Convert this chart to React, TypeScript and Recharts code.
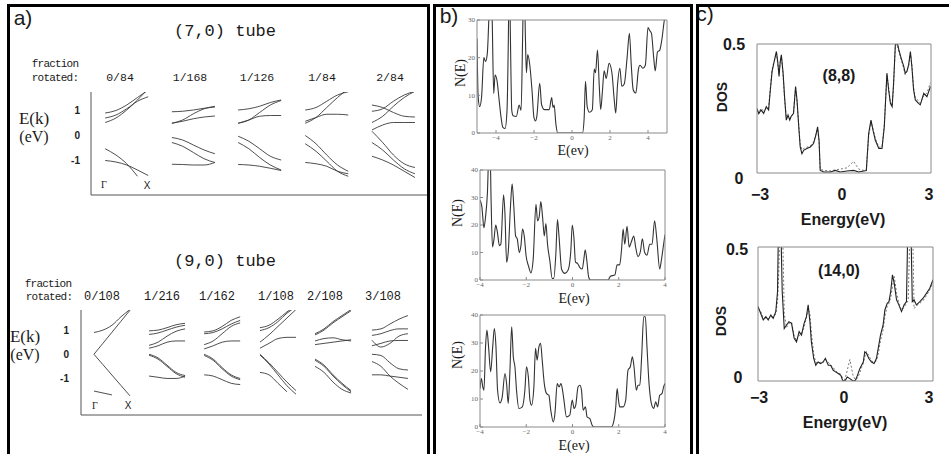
import React from 'react'
import { LineChart, Line, XAxis, YAxis } from 'recharts'

const SERIF = '"Liberation Serif", "DejaVu Serif", serif'
const MONO = '"Liberation Mono", "DejaVu Sans Mono", monospace'
const SANS = '"Liberation Sans", Arial, sans-serif'

type Band = (number | null)[]

// k samples along each band panel, Γ = 0 .. X = 1
const kPath = [0, 0.25, 0.5, 0.75, 1]

// ---- (7,0) tube, band energies in eV ----
const labels70 = ['0/84', '1/168', '1/126', '1/84', '2/84']
const bands70_0: Band[] = [
  [0.88, 0.98, 1.2, 1.5, 1.8],
  [0.68, 0.8, 1.05, 1.35, 1.53],
  [0.5, 0.68, 1.0, 1.4, 1.85],
  [-0.55, -0.8, -1.15, -1.65, null],
  [-1.02, -1.08, -1.2, -1.4, -1.62],
]
const bands70_1: Band[] = [
  [0.93, 0.95, 1.0, 1.07, 1.12],
  [0.47, 0.6, 0.85, 1.05, 1.15],
  [0.47, 0.55, 0.65, 0.72, 0.76],
  [-0.1, -0.2, -0.4, -0.6, -0.75],
  [-0.3, -0.45, -0.7, -0.95, -1.1],
  [-1.17, -1.18, -1.2, -1.2, -1.1],
]
const bands70_2: Band[] = [
  [1.0, 1.05, 1.15, 1.3, 1.4],
  [0.47, 0.6, 0.9, 1.2, 1.38],
  [0.47, 0.6, 0.75, 0.78, 0.78],
  [-0.05, -0.25, -0.55, -0.85, -1.0],
  [-0.3, -0.55, -0.9, -1.2, -1.4],
  [-1.18, -1.2, -1.25, -1.33, -1.42],
]
const bands70_3: Band[] = [
  [1.0, 1.1, 1.35, 1.6, 1.73],
  [0.47, 0.7, 1.1, 1.5, 1.85],
  [0.55, 0.7, 0.83, 0.83, 0.8],
  [-0.02, -0.35, -0.8, -1.2, -1.45],
  [-0.35, -0.65, -1.05, -1.45, -1.65],
  [-1.1, -1.15, -1.25, -1.45, -1.55],
]
const bands70_4: Band[] = [
  [1.2, 1.1, 0.9, 0.75, 0.72],
  [0.95, 1.05, 1.35, 1.6, 1.75],
  [0.5, 0.75, 1.15, 1.5, 1.75],
  [0.2, 0.4, 0.5, 0.5, 0.5],
  [0.15, -0.3, -0.8, -1.15, -1.3],
  [-0.3, -0.6, -1.0, -1.35, -1.55],
  [-0.85, -1.0, -1.2, -1.45, -1.7],
]

// ---- (9,0) tube ----
const labels90 = ['0/108', '1/216', '1/162', '1/108', '2/108', '3/108']
const bands90_0: Band[] = [
  [0.9, 1.0, 1.2, 1.55, 1.85],
  [0, 0.455, 0.91, 1.365, 1.82],
  [0, -0.43, -0.86, -1.29, -1.72],
  [-1.52, -1.6, -1.68, null, null],
]
const bands90_1: Band[] = [
  [0.97, 1.0, 1.1, 1.22, 1.28],
  [0.82, 0.88, 1.0, 1.12, 1.2],
  [0.37, 0.5, 0.75, 0.95, 1.05],
  [0.25, 0.35, 0.5, 0.55, 0.55],
  [0, -0.15, -0.45, -0.75, -0.88],
  [-0.04, -0.2, -0.5, -0.8, -0.95],
  [-0.9, -0.95, -1.0, -1.0, -0.9],
]
const bands90_2: Band[] = [
  [0.92, 0.97, 1.15, 1.4, 1.55],
  [0.85, 0.9, 1.05, 1.25, 1.4],
  [0.4, 0.55, 0.85, 1.15, 1.3],
  [0.22, 0.35, 0.5, 0.55, 0.55],
  [0, -0.2, -0.55, -0.85, -1.0],
  [-0.05, -0.25, -0.6, -0.9, -1.05],
  [-0.85, -0.9, -1.05, -1.2, -1.25],
]
const bands90_3: Band[] = [
  [1.1, 1.2, 1.45, 1.75, 2.0],
  [0.98, 1.1, 1.35, 1.7, 1.95],
  [0.5, 0.8, 1.15, 1.5, 1.85],
  [0.25, 0.45, 0.65, 0.7, 0.7],
  [0, -0.35, -0.75, -1.15, -1.5],
  [-0.03, -0.4, -0.85, -1.3, -1.65],
  [-0.75, -0.85, -1.2, -1.55, null],
]
const bands90_4: Band[] = [
  [0.85, 1.05, 1.35, 1.6, 1.85],
  [0.8, 1.0, 1.3, 1.55, 1.8],
  [0.55, 0.65, 0.68, 0.6, 0.55],
  [0.4, 0.45, 0.5, 0.55, 0.6],
  [-0.2, -0.45, -0.85, -1.2, -1.5],
  [-0.25, -0.5, -0.9, -1.25, -1.55],
  [-0.5, -0.75, -1.15, -1.45, -1.6],
]
const bands90_5: Band[] = [
  [1.0, 1.05, 1.25, 1.45, 1.6],
  [0.78, 0.85, 0.98, 1.05, 1.05],
  [0.58, 0.3, 0.45, 0.75, 0.85],
  [0.35, 0.45, 0.55, 0.57, 0.57],
  [0, -0.05, -0.35, -0.6, -0.65],
  [-0.3, -0.5, -0.9, -1.2, -1.45],
  [-0.85, -0.85, -0.9, -0.95, -1.0],
]

// ---- N(E) curves, [energy, N] ----
const dosB1: [number, number][] = [
  [-5.0, 25], [-4.94, 9.7], [-4.86, 7], [-4.76, 9.5], [-4.64, 20], [-4.55, 19], [-4.46, 21], [-4.38, 30],
  [-4.3, 45], [-4.2, 30], [-4.12, 10.5], [-4.05, 15.4], [-3.95, 14], [-3.84, 9], [-3.73, 4], [-3.64, 1.5],
  [-3.52, 1.2], [-3.42, 6], [-3.35, 25], [-3.3, 45], [-3.24, 25], [-3.17, 6], [-3.1, 4.6], [-2.93, 4.4],
  [-2.78, 7.4], [-2.68, 6], [-2.6, 25], [-2.53, 45], [-2.45, 25], [-2.4, 16], [-2.33, 20.8], [-2.22, 18],
  [-2.1, 11], [-2.0, 4], [-1.92, 3.2], [-1.85, 4.5], [-1.7, 13.2], [-1.6, 7.5], [-1.45, 6.2], [-1.2, 6.2],
  [-1.07, 9.4], [-1.0, 6.8], [-0.94, 7.4], [-0.85, 2.5], [-0.75, 0], [0.55, 0], [0.64, 4], [0.71, 13.7],
  [0.8, 7], [0.92, 5.5], [1.07, 6.2], [1.17, 17], [1.24, 16], [1.34, 22], [1.44, 12], [1.51, 6.2],
  [1.6, 11], [1.69, 16.5], [1.8, 14.5], [1.95, 18.5], [2.1, 16], [2.22, 9], [2.3, 5.3], [2.4, 13],
  [2.52, 17.2], [2.62, 12.4], [2.75, 13], [2.9, 20], [3.02, 26.5], [3.12, 18], [3.22, 11.5], [3.36, 10.6],
  [3.5, 17], [3.58, 18], [3.73, 17.2], [3.86, 18], [4.0, 28], [4.09, 27.2], [4.18, 26.5], [4.3, 20],
  [4.38, 16.5], [4.5, 21.5], [4.62, 22], [4.72, 24.5], [4.86, 30], [5.0, 34],
]
const dosB2: [number, number][] = [
  [-4.0, 29], [-3.92, 26.7], [-3.83, 19], [-3.76, 23], [-3.68, 31.5], [-3.62, 45], [-3.56, 45], [-3.52, 29],
  [-3.46, 12], [-3.4, 14.5], [-3.32, 20], [-3.25, 17.5], [-3.16, 12.5], [-3.1, 13], [-2.98, 31], [-2.92, 24],
  [-2.85, 6.5], [-2.78, 10], [-2.68, 27], [-2.61, 35], [-2.54, 27], [-2.46, 16], [-2.39, 15], [-2.3, 10],
  [-2.23, 12.5], [-2.16, 18.5], [-2.08, 15.5], [-2.01, 9], [-1.9, 5], [-1.8, 2.6], [-1.7, 7.5], [-1.58, 27.5],
  [-1.51, 21.5], [-1.44, 23], [-1.37, 28.5], [-1.29, 22.5], [-1.22, 16], [-1.15, 20.5], [-1.08, 13], [-0.98, 7],
  [-0.88, 0.6], [-0.81, 0.6], [-0.72, 9.5], [-0.65, 22], [-0.58, 15.5], [-0.47, 3.8], [-0.33, 2.4], [-0.19, 3.6],
  [-0.07, 11], [-0.01, 20], [0.06, 15.5], [0.13, 6.5], [0.22, 6], [0.32, 4.5], [0.42, 4], [0.49, 7.5],
  [0.55, 11], [0.62, 7], [0.7, 1], [0.78, 0], [1.54, 0], [1.64, 1.4], [1.83, 1.8], [1.93, 5.5],
  [2.04, 5.5], [2.12, 11], [2.19, 18.5], [2.26, 13], [2.36, 19.5], [2.45, 12], [2.55, 14], [2.65, 16],
  [2.73, 12], [2.83, 8.5], [2.94, 10.5], [3.02, 15], [3.12, 10], [3.22, 9], [3.34, 13], [3.44, 13],
  [3.55, 21.5], [3.65, 14.5], [3.77, 4], [3.84, 7], [3.94, 13], [4.0, 16.5],
]
const dosB3: [number, number][] = [
  [-4.0, 13.7], [-3.94, 17.3], [-3.88, 14.3], [-3.83, 13.1], [-3.76, 28.7], [-3.7, 34.6], [-3.63, 28.7], [-3.54, 19.7],
  [-3.45, 28.7], [-3.38, 35.2], [-3.31, 28.7], [-3.24, 13.1], [-3.14, 8.6], [-3.04, 10.7], [-2.92, 19.1], [-2.85, 15.5],
  [-2.78, 8.4], [-2.71, 19.1], [-2.63, 35.8], [-2.56, 25.1], [-2.49, 21.5], [-2.42, 13.1], [-2.32, 6.6], [-2.17, 7.2],
  [-2.06, 13.1], [-1.99, 21.5], [-1.91, 17.9], [-1.84, 9.6], [-1.77, 7.8], [-1.67, 14.3], [-1.6, 28.1], [-1.53, 23.9],
  [-1.45, 28.7], [-1.38, 29.9], [-1.31, 23.9], [-1.22, 15.5], [-1.12, 11.9], [-1.02, 11.3], [-0.94, 6], [-0.83, 1.8],
  [-0.76, 4.8], [-0.66, 15.5], [-0.58, 14.3], [-0.5, 15.5], [-0.43, 13.1], [-0.37, 9.6], [-0.26, 3.6], [-0.12, 4.2],
  [-0.01, 9.6], [0.07, 6.6], [0.14, 7.8], [0.24, 14.3], [0.32, 14.9], [0.39, 13.1], [0.46, 6], [0.56, 7.2],
  [0.63, 3.6], [0.75, 3], [0.85, 0.6], [0.92, 0], [1.68, 0], [1.78, 1.8], [1.87, 7.2], [1.93, 13.7],
  [1.99, 9.6], [2.04, 7.2], [2.19, 7.2], [2.3, 9.6], [2.4, 20.3], [2.5, 21.5], [2.59, 25.1], [2.66, 21.5],
  [2.76, 13.1], [2.83, 14.9], [2.91, 14.9], [2.99, 25.1], [3.08, 39.4], [3.15, 39.4], [3.22, 28.7], [3.31, 15.5],
  [3.41, 8.4], [3.51, 6.6], [3.6, 9], [3.68, 7.2], [3.77, 11.3], [3.87, 11.9], [3.94, 14.3], [4.0, 15.5],
]

// ---- DOS, (8,8) and (14,0): solid and dotted curves ----
const energy88 = [
  -3.0, -2.94, -2.86, -2.77, -2.68, -2.6, -2.54, -2.48, -2.43, -2.37, -2.33, -2.28, -2.24, -2.2, -2.16, -2.1,
  -2.05, -1.99, -1.93, -1.87, -1.83, -1.74, -1.67, -1.62, -1.56, -1.51, -1.45, -1.39, -1.28, -1.16, -1.05, -0.97,
  -0.91, -0.86, -0.82, -0.7, -0.47, -0.3, -0.13, 0.1, 0.33, 0.51, 0.68, 0.77, 0.85, 0.93, 1.0, 1.08,
  1.2, 1.31, 1.39, 1.48, 1.54, 1.6, 1.66, 1.71, 1.77, 1.83, 1.89, 1.97, 2.06, 2.11, 2.17, 2.23,
  2.29, 2.34, 2.4, 2.46, 2.57, 2.63, 2.75, 2.86, 2.98,
]
const solid88 = [
  0.25, 0.23, 0.244, 0.231, 0.257, 0.244, 0.322, 0.394, 0.42, 0.452, 0.471, 0.426, 0.374, 0.432, 0.458, 0.387,
  0.296, 0.205, 0.225, 0.205, 0.218, 0.231, 0.335, 0.283, 0.179, 0.101, 0.075, 0.088, 0.095, 0.101, 0.114, 0.147,
  0.179, 0.127, 0.01, 0.004, 0.004, 0.01, 0.004, 0.008, 0.01, 0.004, 0.008, 0.01, 0.153, 0.205, 0.166, 0.127,
  0.095, 0.095, 0.179, 0.387, 0.322, 0.27, 0.257, 0.348, 0.497, 0.51, 0.478, 0.445, 0.413, 0.387, 0.394, 0.42,
  0.471, 0.413, 0.322, 0.283, 0.27, 0.264, 0.309, 0.296, 0.335,
]
const dotted88 = [
  0.24, 0.235, 0.25, 0.24, 0.25, 0.25, 0.33, 0.4, 0.425, 0.445, 0.465, 0.415, 0.385, 0.425, 0.45, 0.38,
  0.29, 0.215, 0.22, 0.21, 0.215, 0.235, 0.33, 0.275, 0.185, 0.11, 0.09, 0.095, 0.1, 0.105, 0.12, 0.15,
  0.17, 0.12, 0.015, 0.01, 0.008, 0.012, 0.015, 0.02, 0.045, 0.015, 0.01, 0.012, 0.14, 0.2, 0.17, 0.135,
  0.1, 0.1, 0.19, 0.38, 0.33, 0.275, 0.26, 0.34, 0.49, 0.5, 0.47, 0.44, 0.405, 0.38, 0.4, 0.415,
  0.465, 0.42, 0.33, 0.29, 0.28, 0.27, 0.3, 0.31, 0.35,
]
const energy140 = [
  -3.0, -2.91, -2.82, -2.73, -2.65, -2.56, -2.48, -2.39, -2.33, -2.29, -2.23, -2.17, -2.1, -2.02, -1.94, -1.85,
  -1.76, -1.68, -1.59, -1.51, -1.42, -1.34, -1.28, -1.22, -1.17, -1.09, -1.02, -0.94, -0.85, -0.77, -0.69, -0.59,
  -0.51, -0.42, -0.34, -0.25, -0.16, -0.1, -0.02, 0.06, 0.15, 0.26, 0.34, 0.41, 0.49, 0.55, 0.61, 0.66,
  0.72, 0.8, 0.89, 0.98, 1.06, 1.12, 1.2, 1.29, 1.35, 1.43, 1.49, 1.55, 1.61, 1.67, 1.75, 1.83,
  1.92, 2.01, 2.09, 2.15, 2.23, 2.29, 2.35, 2.43, 2.55, 2.66, 2.78, 2.89, 3.0,
]
const solid140 = [
  0.278, 0.253, 0.228, 0.24, 0.228, 0.246, 0.234, 0.259, 0.334, 0.65, 0.65, 0.334, 0.196, 0.209, 0.221, 0.215,
  0.159, 0.146, 0.184, 0.171, 0.215, 0.24, 0.284, 0.221, 0.146, 0.084, 0.059, 0.071, 0.065, 0.071, 0.084, 0.059,
  0.059, 0.04, 0.034, 0.028, 0.021, 0.003, 0, 0.015, 0.009, 0, 0.003, 0.021, 0.046, 0.059, 0.071, 0.109,
  0.103, 0.084, 0.071, 0.065, 0.084, 0.121, 0.171, 0.209, 0.265, 0.29, 0.296, 0.334, 0.396, 0.365, 0.303, 0.284,
  0.259, 0.284, 0.296, 0.65, 0.65, 0.296, 0.303, 0.284, 0.296, 0.309, 0.328, 0.346, 0.378,
]
const dotted140 = [
  0.27, 0.26, 0.235, 0.235, 0.232, 0.24, 0.238, 0.25, 0.3, 0.4, 0.65, 0.65, 0.25, 0.2, 0.215, 0.22,
  0.17, 0.15, 0.17, 0.175, 0.2, 0.235, 0.27, 0.25, 0.18, 0.1, 0.07, 0.065, 0.07, 0.068, 0.08, 0.07,
  0.06, 0.05, 0.038, 0.03, 0.025, 0.01, 0.005, 0.04, 0.08, 0.02, 0.005, 0.01, 0.03, 0.05, 0.065, 0.09,
  0.11, 0.095, 0.075, 0.07, 0.075, 0.1, 0.15, 0.19, 0.24, 0.28, 0.29, 0.31, 0.35, 0.39, 0.33, 0.29,
  0.265, 0.275, 0.29, 0.3, 0.65, 0.65, 0.27, 0.28, 0.29, 0.3, 0.32, 0.34, 0.37,
]

const NO_MARGIN = { top: 0, right: 0, bottom: 0, left: 0 }
const minus = (v: number) => (v < 0 ? `\u2212${-v}` : `${v}`)

function Txt({ x, y, size, family = SERIF, weight = 400, rotate = 0, spacing = 0, children }: any) {
  return (
    <div
      style={{
        position: 'absolute', left: x, top: y, fontSize: size, fontFamily: family, fontWeight: weight,
        lineHeight: 1, whiteSpace: 'pre', letterSpacing: spacing, color: '#1a1a1a',
        transform: `translate(-50%, -50%)${rotate ? ` rotate(${rotate}deg)` : ''}`,
      }}
    >
      {children}
    </div>
  )
}

// one row of band panels sharing a single E axis
function BandRow({ sets, slots, span, eDomain, x, y, w, h, tickMargin }: any) {
  const yW = 30
  return (
    <div style={{ position: 'absolute', left: x - yW, top: y }}>
      <LineChart width={yW + w} height={h + 1} margin={NO_MARGIN}>
        <XAxis type="number" dataKey="k" domain={[0, span]} allowDataOverflow height={1}
          tick={false} tickLine={false} axisLine={{ stroke: '#555' }} />
        <YAxis type="number" domain={eDomain} allowDataOverflow ticks={[-1, 0, 1]} interval={0} width={yW}
          tickLine={false} axisLine={{ stroke: '#555' }} tickMargin={tickMargin}
          tick={{ fontSize: 10, fontWeight: 700, fill: '#222', fontFamily: SANS }} />
        {sets.map((bands: Band[], i: number) =>
          bands.map((band, j) => (
            <Line key={`${i}-${j}`} data={kPath.map((k, n) => ({ k: slots[i] + k, e: band[n] }))}
              dataKey="e" type="monotone" dot={false} stroke="#3a3a3a" strokeWidth={0.9}
              isAnimationActive={false} />
          ))
        )}
      </LineChart>
    </div>
  )
}

const bFrame = { stroke: '#8a8a8a', strokeWidth: 1 }
const bTick = { fontSize: 7, fill: '#666', fontFamily: SERIF }

function NPlot({ x, y, w, h, points, xDomain, yMax, yTicks }: any) {
  const yW = 26, bH = 14, mt = 6, mr = 2
  const data = points.map(([e, n]: [number, number]) => ({ e, n }))
  const xTicks = [-4, -2, 0, 2, 4]
  return (
    <div style={{ position: 'absolute', left: x - yW, top: y - mt - 1 }}>
      <LineChart width={yW + w + 1 + mr} height={mt + 1 + h + bH} data={data}
        margin={{ top: mt, right: mr, bottom: 0, left: 0 }}>
        <XAxis xAxisId="b" type="number" dataKey="e" domain={xDomain} allowDataOverflow ticks={xTicks} interval={0}
          height={bH} axisLine={bFrame} tickLine={bFrame} tickSize={-3} tickMargin={5} tick={bTick}
          tickFormatter={minus} />
        <XAxis xAxisId="t" orientation="top" type="number" dataKey="e" domain={xDomain} allowDataOverflow
          ticks={xTicks} interval={0} height={1} axisLine={bFrame} tickLine={bFrame} tickSize={-3} tick={false} />
        <YAxis yAxisId="l" type="number" domain={[0, yMax]} allowDataOverflow ticks={yTicks} interval={0}
          width={yW} axisLine={bFrame} tickLine={bFrame} tickSize={-3} tickMargin={5} tick={bTick} />
        <YAxis yAxisId="r" orientation="right" type="number" domain={[0, yMax]} allowDataOverflow ticks={yTicks}
          interval={0} width={1} axisLine={bFrame} tickLine={bFrame} tickSize={-3} tick={false} />
        <Line xAxisId="b" yAxisId="l" dataKey="n" type="monotone" dot={false} stroke="#333" strokeWidth={1.1}
          isAnimationActive={false} />
      </LineChart>
    </div>
  )
}

const cFrame = { stroke: '#8a8a8a', strokeWidth: 1 }

function DosPlot({ x, y, w, h, energy, solid, dotted }: any) {
  const yW = 20, bH = 12, pad = 1
  const data = energy.map((e: number, i: number) => ({ e, s: solid[i], d: dotted[i] }))
  return (
    <div style={{ position: 'absolute', left: x - yW, top: y - pad }}>
      <LineChart width={yW + w + pad} height={pad + h + bH} data={data} margin={NO_MARGIN}>
        <XAxis xAxisId="b" type="number" dataKey="e" domain={[-3, 3]} allowDataOverflow
          ticks={[-2.25, -1.5, -0.75, 0.75, 1.5, 2.25]} interval={0} height={bH} axisLine={cFrame}
          tickLine={cFrame} tickSize={-5} tick={false} />
        <XAxis xAxisId="t" orientation="top" type="number" dataKey="e" domain={[-3, 3]} allowDataOverflow
          height={pad} axisLine={cFrame} tickLine={false} tick={false} />
        <YAxis yAxisId="l" type="number" domain={[0, 0.5]} allowDataOverflow ticks={[0.125, 0.25, 0.375]}
          interval={0} width={yW} axisLine={cFrame} tickLine={cFrame} tickSize={-5} tick={false} />
        <YAxis yAxisId="r" orientation="right" type="number" domain={[0, 0.5]} allowDataOverflow width={pad}
          axisLine={cFrame} tickLine={false} tick={false} />
        <Line xAxisId="b" yAxisId="l" dataKey="d" type="linear" dot={false} stroke="#777" strokeWidth={1}
          strokeDasharray="2 2" isAnimationActive={false} />
        <Line xAxisId="b" yAxisId="l" dataKey="s" type="linear" dot={false} stroke="#222" strokeWidth={1.1}
          isAnimationActive={false} />
      </LineChart>
    </div>
  )
}

// panel placement in k-axis units
const slots70 = [0.33, 1.88, 3.42, 4.98, 6.53]
const slots90 = [0.36, 1.89, 3.42, 4.97, 6.5, 8.08]
const labelX70 = [120, 190, 257, 322, 390]
const labelX90 = [102, 162, 217, 276, 325, 383]

const box = (left: number, width: number): React.CSSProperties => ({
  position: 'absolute', left, top: 4, width, height: 470, border: '3px solid #000', boxSizing: 'border-box',
})

export default function App() {
  return (
    <div style={{ position: 'absolute', left: 0, top: 0, width: 949, height: 454, background: '#fff', overflow: 'hidden' }}>
      {/* a) band structures */}
      <BandRow sets={[bands70_0, bands70_1, bands70_2, bands70_3, bands70_4]} slots={slots70} span={7.88}
        eDomain={[-2.4, 1.72]} x={91} y={92} w={339} h={103} tickMargin={5} />
      <BandRow sets={[bands90_0, bands90_1, bands90_2, bands90_3, bands90_4, bands90_5]} slots={slots90} span={9.47}
        eDomain={[-2.51, 1.83]} x={81} y={310} w={341} h={105} tickMargin={6} />

      <Txt x={23} y={17} size={21} family={SANS}>a)</Txt>
      <Txt x={225} y={31} size={17} family={MONO}>(7,0) tube</Txt>
      <Txt x={55} y={64} size={11} family={MONO} spacing={-0.8}>fraction</Txt>
      <Txt x={55} y={78} size={11} family={MONO} spacing={-0.8}>rotated:</Txt>
      {labels70.map((l, i) => (
        <Txt key={l} x={labelX70[i]} y={78} size={11.5} family={MONO}>{l}</Txt>
      ))}
      <Txt x={34} y={118} size={17}>E(k)</Txt>
      <Txt x={34} y={137} size={16}>(eV)</Txt>
      <Txt x={104} y={185} size={10}>Γ</Txt>
      <Txt x={147} y={186} size={10} family={SANS}>X</Txt>

      <Txt x={225} y={261} size={17} family={MONO}>(9,0) tube</Txt>
      <Txt x={48} y={284} size={11} family={MONO} spacing={-0.8}>fraction</Txt>
      <Txt x={49} y={297} size={11} family={MONO} spacing={-0.8}>rotated:</Txt>
      {labels90.map((l, i) => (
        <Txt key={l} x={labelX90[i]} y={297} size={12} family={MONO}>{l}</Txt>
      ))}
      <Txt x={25} y={336} size={17}>E(k)</Txt>
      <Txt x={25} y={355} size={16}>(eV)</Txt>
      <Txt x={95} y={406} size={10}>Γ</Txt>
      <Txt x={128} y={406} size={10} family={SANS}>X</Txt>

      {/* b) N(E) */}
      <NPlot x={477} y={20} w={190} h={113} points={dosB1} xDomain={[-5, 5]} yMax={30} yTicks={[0, 10, 20, 30]} />
      <NPlot x={480} y={170} w={185} h={110} points={dosB2} xDomain={[-4, 4]} yMax={40} yTicks={[0, 10, 20, 30, 40]} />
      <NPlot x={480} y={315} w={185} h={112} points={dosB3} xDomain={[-4, 4]} yMax={40} yTicks={[0, 10, 20, 30, 40]} />
      <Txt x={449} y={15} size={21} family={SANS}>b)</Txt>
      <Txt x={461} y={73} size={14} rotate={-90}>N(E)</Txt>
      <Txt x={573} y={151} size={14}>E(ev)</Txt>
      <Txt x={458} y={213} size={14} rotate={-90}>N(E)</Txt>
      <Txt x={574} y={299} size={14}>E(ev)</Txt>
      <Txt x={458} y={355} size={14} rotate={-90}>N(E)</Txt>
      <Txt x={574} y={446} size={14}>E(ev)</Txt>

      {/* c) DOS */}
      <DosPlot x={757} y={44} w={174} h={129} energy={energy88} solid={solid88} dotted={dotted88} />
      <DosPlot x={758} y={247} w={175} h={134} energy={energy140} solid={solid140} dotted={dotted140} />
      <Txt x={705} y={13} size={21} family={SANS}>c)</Txt>
      <Txt x={734} y={45} size={16} family={SANS} weight={700}>0.5</Txt>
      <Txt x={739} y={179} size={16} family={SANS} weight={700}>0</Txt>
      <Txt x={722} y={97} size={14} family={SANS} weight={700} rotate={-90}>DOS</Txt>
      <Txt x={839} y={76} size={16} family={SANS} weight={700}>(8,8)</Txt>
      <Txt x={760} y={195} size={16} family={SANS} weight={700}>{minus(-3)}</Txt>
      <Txt x={842} y={195} size={16} family={SANS} weight={700}>0</Txt>
      <Txt x={929} y={195} size={16} family={SANS} weight={700}>3</Txt>
      <Txt x={843} y={220} size={16} family={SANS} weight={700}>Energy(eV)</Txt>

      <Txt x={737} y={250} size={16} family={SANS} weight={700}>0.5</Txt>
      <Txt x={738} y={378} size={16} family={SANS} weight={700}>0</Txt>
      <Txt x={721} y={321} size={14} family={SANS} weight={700} rotate={-90}>DOS</Txt>
      <Txt x={839} y={271} size={16} family={SANS} weight={700}>(14,0)</Txt>
      <Txt x={759} y={398} size={16} family={SANS} weight={700}>{minus(-3)}</Txt>
      <Txt x={844} y={398} size={16} family={SANS} weight={700}>0</Txt>
      <Txt x={929} y={398} size={16} family={SANS} weight={700}>3</Txt>
      <Txt x={845} y={423} size={16} family={SANS} weight={700}>Energy(eV)</Txt>

      {/* panel frames */}
      <div style={box(7, 423)} />
      <div style={box(433, 260)} />
      <div style={box(696, 256)} />
    </div>
  )
}
